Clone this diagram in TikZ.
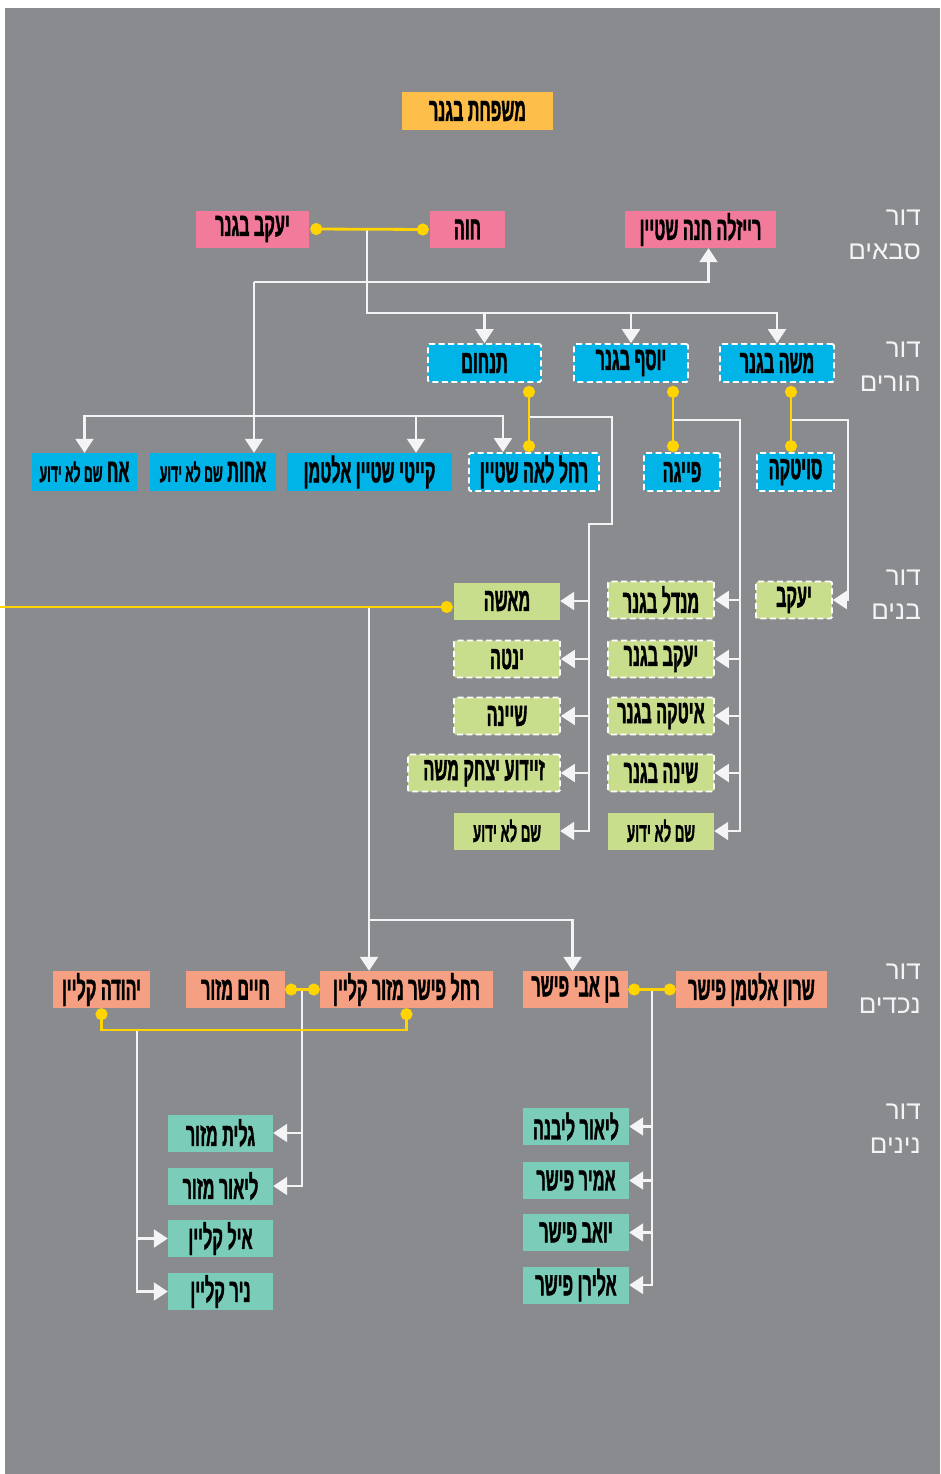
\documentclass[tikz,border=0pt]{standalone}
\usepackage{fontspec}
\usetikzlibrary{arrows.meta}
\TeXXeTstate=1
\newfontfamily\hebbox[Script=Hebrew,FakeStretch=0.49,FakeBold=1.2]{Liberation Sans Bold}
\newfontfamily\hebgen[Script=Hebrew]{Liberation Sans}
\newcommand{\heb}[1]{\beginR#1\endR}

\definecolor{bggray}{HTML}{8A8B8F}
\definecolor{titleorange}{HTML}{FDBE4A}
\definecolor{gpink}{HTML}{F27B9B}
\definecolor{pblue}{HTML}{00B4E8}
\definecolor{cgreen}{HTML}{C9DE8C}
\definecolor{gcsalmon}{HTML}{F5A083}
\definecolor{ggteal}{HTML}{7BCDB9}
\definecolor{wedyellow}{HTML}{FFD400}
\definecolor{linewhite}{HTML}{F4F4F6}
\definecolor{inkdark}{HTML}{231F20}

\tikzset{
  box/.style={rectangle, inner sep=0pt, minimum height=37, text=inkdark,
    font=\hebbox\fontsize{33}{35}\selectfont,
    execute at begin node={\color{inkdark}\beginR}, execute at end node=\endR},
  dashbox/.style={draw=white, line width=1.8pt, dash pattern=on 6pt off 3.5pt, rounded corners=1.5pt},
  line/.style={draw=linewhite, line width=2.2pt, -{Triangle[width=18pt,length=14pt]}},
  marry/.style={draw=wedyellow, line width=2.8pt, {Circle[length=12pt]}-{Circle[length=12pt]}},
  gen/.style={text=linewhite, align=right, anchor=east, inner sep=0pt,
    font=\hebgen\fontsize{26}{34}\selectfont}
}

\begin{document}
\begin{tikzpicture}[x=1pt,y=-1pt]
\useasboundingbox (0,0) rectangle (940,1474);
\fill[white] (0,0) rectangle (940,1474);
\fill[bggray] (5,8) rectangle (940,1474);

% title
\node[box, fill=titleorange, minimum width=151, minimum height=38] (title) at (477.5,111) {משפחת בגנר};

% generations
\node[gen] (gsaba) at (921,235) {\heb{דור}\\\heb{סבאים}};
\node[gen] (gparent) at (921,367) {\heb{דור}\\\heb{הורים}};
\node[gen] (gbanim) at (921,595) {\heb{דור}\\\heb{בנים}};
\node[gen] (gnechd) at (921,989) {\heb{דור}\\\heb{נכדים}};
\node[gen] (gninim) at (921,1129) {\heb{דור}\\\heb{נינים}};

% grandparents
\node[box, fill=gpink, minimum width=113] (yaakov1) at (252.5,229) {יעקב בגנר};
\node[box, fill=gpink, minimum width=75] (chava) at (467.5,229.5) {חוה};
\node[box, fill=gpink, minimum width=151] (raizla) at (700.5,229.5) {רייזלה חנה שטיין};

% parents
\node[box, fill=pblue, dashbox, minimum width=113, minimum height=38] (tanchum) at (484.5,363) {תנחום};
\node[box, fill=pblue, dashbox, minimum width=114, minimum height=38] (yosef) at (631,363) {יוסף בגנר};
\node[box, fill=pblue, dashbox, minimum width=114, minimum height=38] (moshe) at (777,363) {משה בגנר};

\node[box, fill=pblue, minimum width=105, minimum height=38] (ach) at (84.5,472) {אח {\fontsize{25}{26}\selectfont שם לא ידוע}};
\node[box, fill=pblue, minimum width=126, minimum height=38] (achot) at (213,472) {אחות {\fontsize{25}{26}\selectfont שם לא ידוע}};
\node[box, fill=pblue, minimum width=165, minimum height=38] (kati) at (369.5,472) {קייטי שטיין אלטמן};
\node[box, fill=pblue, dashbox, minimum width=130, minimum height=38] (rachel) at (534,472) {רחל לאה שטיין};
\node[box, fill=pblue, dashbox, minimum width=76, minimum height=38] (feiga) at (682,472) {פייגה};
\node[box, fill=pblue, dashbox, minimum width=77, minimum height=38] (svitka) at (795.5,472) {סויטקה};

% banim
\node[box, fill=cgreen, minimum width=106] (masha) at (507,601) {מאשה};
\node[box, fill=cgreen, dashbox, minimum width=106] (yente) at (507,659) {ינטה};
\node[box, fill=cgreen, dashbox, minimum width=106] (sheina) at (507,716) {שיינה};
\node[box, fill=cgreen, dashbox, minimum width=152] (zaidue) at (484,773) {זיידוע יצחק משה};
\node[box, fill=cgreen, minimum width=106] (unknownA) at (507,831) {\fontsize{27}{29}\selectfont שם לא ידוע};
\node[box, fill=cgreen, dashbox, minimum width=106] (mendel) at (661,600) {מנדל בגנר};
\node[box, fill=cgreen, dashbox, minimum width=106] (yaakov2) at (661,659) {יעקב בגנר};
\node[box, fill=cgreen, dashbox, minimum width=106] (itke) at (661,716) {איטקה בגנר};
\node[box, fill=cgreen, dashbox, minimum width=106] (shine) at (661,773) {שינה בגנר};
\node[box, fill=cgreen, minimum width=106] (unknownB) at (661,831) {\fontsize{27}{29}\selectfont שם לא ידוע};
\node[box, fill=cgreen, dashbox, minimum width=76] (yaakov3) at (794,600) {יעקב};

% nechadim
\node[box, fill=gcsalmon, minimum width=97] (yehuda) at (101.5,989.5) {יהודה קליין};
\node[box, fill=gcsalmon, minimum width=99] (chaim) at (235.5,989.5) {חיים מזור};
\node[box, fill=gcsalmon, minimum width=173] (rachelf) at (406.5,989.5) {רחל פישר מזור קליין};
\node[box, fill=gcsalmon, minimum width=105] (ben) at (575.5,989.5) {בן אבי פישר};
\node[box, fill=gcsalmon, minimum width=151] (sharon) at (751.5,989.5) {שרון אלטמן פישר};

% ninim
\node[box, fill=ggteal, minimum width=105] (galit) at (220.5,1133) {גלית מזור};
\node[box, fill=ggteal, minimum width=105] (lior1) at (220.5,1186) {ליאור מזור};
\node[box, fill=ggteal, minimum width=105] (eyal) at (220.5,1238.5) {איל קליין};
\node[box, fill=ggteal, minimum width=105] (nir) at (220.5,1291.5) {ניר קליין};
\node[box, fill=ggteal, minimum width=106] (liorl) at (576,1126.5) {ליאור ליבנה};
\node[box, fill=ggteal, minimum width=106] (amir) at (576,1180.5) {אמיר פישר};
\node[box, fill=ggteal, minimum width=106] (yoav) at (576,1232.5) {יואב פישר};
\node[box, fill=ggteal, minimum width=106] (eliran) at (576,1285) {אלירן פישר};

% bus points
\coordinate (m1) at (367,229);
\coordinate (gpbus) at (367,313);
\coordinate (sbus) at (254,282);
\coordinate (sbus2) at (254,416);
\coordinate (m2) at (529,417);
\coordinate (m3) at (673,420);
\coordinate (m4) at (791,420);
\coordinate (busA) at (589,524);
\coordinate (busB) at (740,420);
\coordinate (mm) at (369,607);
\coordinate (mb) at (369,920);
\coordinate (k1) at (137,1030);
\coordinate (cbus) at (302,990);
\coordinate (fbus) at (652,990);

% white connectors
\draw[line] (m1) -- (gpbus) -| (moshe.north);
\draw[line] (tanchum.north |- gpbus) -- (tanchum.north);
\draw[line] (yosef.north |- gpbus) -- (yosef.north);
\draw[line] (sbus) -| ([xshift=8]raizla.south);
\draw[line] (sbus) -- (sbus |- achot.north);
\draw[line] (sbus2) -| (ach.north);
\draw[line] (sbus2) -- (503,416) -- (503,416 |- rachel.north);
\draw[line] (416,416) -- (416,416 |- kati.north);

\draw[line] (m2) -- (612,417) |- (busA) |- (unknownA.east);
\foreach \n in {masha,yente,sheina,zaidue}
  \draw[line] (busA |- \n.east) -- (\n.east);
\draw[line] (m3) -- (busB) |- (unknownB.east);
\foreach \n in {mendel,yaakov2,itke,shine}
  \draw[line] (busB |- \n.east) -- (\n.east);
\draw[line] (m4) -- (848,420) |- (yaakov3.east);

\draw[line] (mm) -- (mm |- rachelf.north);
\draw[line] (mb) -| ([xshift=-3]ben.north);

\draw[line] (cbus) |- (lior1.east);
\draw[line] (cbus |- galit.east) -- (galit.east);
\draw[line] (k1) |- (nir.west);
\draw[line] (k1 |- eyal.west) -- (eyal.west);
\draw[line] (fbus) |- (eliran.east);
\foreach \n in {liorl,amir,yoav}
  \draw[line] (fbus |- \n.east) -- (\n.east);

% marriages
\draw[marry] ([xshift=1]yaakov1.east) -- ([xshift=-1]chava.west);
\draw[marry] ([yshift=-3]tanchum.south -| m2) -- (rachel.north -| m2);
\draw[marry] ([yshift=-3]yosef.south -| m3) -- (feiga.north -| m3);
\draw[marry] ([yshift=-3]moshe.south -| m4) -- (svitka.north -| m4);
\draw[marry, -{Circle[length=12pt]}] (0,607) -- ([xshift=-1]masha.west |- mm);
\draw[marry] (chaim.east) -- (rachelf.west);
\draw[marry] (ben.east) -- (sharon.west);
\draw[marry] (yehuda.south) |- (k1) -| (rachelf.south);
\end{tikzpicture}
\end{document}
